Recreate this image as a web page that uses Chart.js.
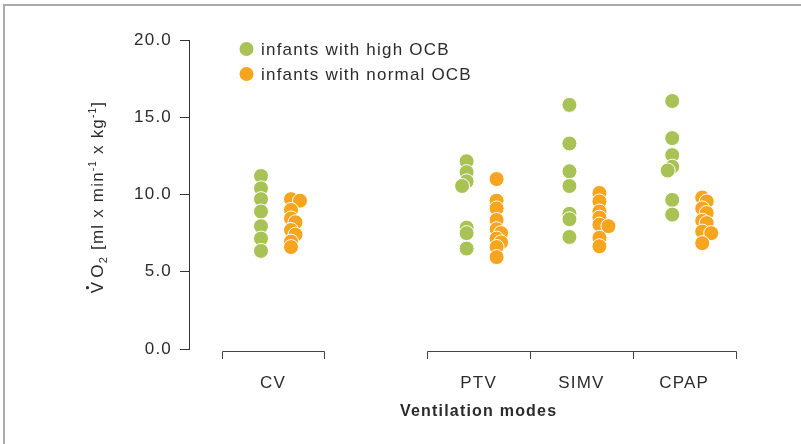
<!DOCTYPE html>
<html>
<head>
<meta charset="utf-8">
<script src="https://cdn.jsdelivr.net/npm/chart.js@4.4.1/dist/chart.umd.min.js"></script>
<style>
  html, body { margin: 0; padding: 0; background: #fff; }
  #wrap { position: relative; width: 801px; height: 444px; }
</style>
</head>
<body>
<div id="wrap"><canvas id="chart" width="801" height="444"></canvas></div>
<script>
// values, one inner list per ventilation mode
const modes = ['CV', 'PTV', 'SIMV', 'CPAP']
const highOCB = [
  [11.2, 10.4, 9.7, 8.9, 7.95, 7.15, 6.35],
  [12.15, 11.45, 10.85, 10.55, 7.85, 7.5, 6.5],
  [15.8, 13.3, 11.5, 10.55, 8.75, 8.4, 7.25],
  [16.05, 13.65, 12.55, 11.8, 11.55, 9.65, 8.7]
]
const normalOCB = [
  [9.7, 9.6, 9.0, 8.45, 8.2, 7.7, 7.4, 6.95, 6.6],
  [11.0, 9.6, 9.1, 8.35, 7.75, 7.5, 7.15, 6.9, 6.6, 5.95],
  [10.1, 9.55, 8.9, 8.5, 8.05, 7.95, 7.2, 6.65],
  [9.8, 9.55, 9.1, 8.8, 8.3, 8.15, 7.6, 7.5, 6.85]
]
const seriesNames = ['infants with high OCB', 'infants with normal OCB']
const yTicks = [0, 5, 10, 15, 20]

// layout: slot of each mode on the x axis (slot 2 is left empty)
const slot = [1, 3, 4, 5]
const X_MIN = 0.183, X_MAX = 5.844
const PX_X = 582 / (X_MAX - X_MIN)   // px per x unit
const PX_Y = 309 / 20                // px per y unit
const GREEN = '#a8c256'
const ORANGE = '#f6a51f'
const FONT = "'Liberation Sans', Arial, sans-serif"
const INK = '#2b2b2b'

// simple dodge so overlapping dots spread sideways a little
// dir = -1 tries the left side first, +1 the right side
function dodge(values, base, dir) {
  const order = values.map((v, i) => i).sort((a, b) => values[b] - values[a])
  const placed = []
  const xs = []
  order.forEach(i => {
    const py = values[i] * PX_Y
    let px = 0
    for (const k of [0, 1, -1, 2, -2, 3, -3]) {
      px = k * dir * 4.5
      if (placed.every(p => Math.hypot(p.x - px, p.y - py) >= 5)) break
    }
    placed.push({ x: px, y: py })
    xs[i] = base + px / PX_X
  })
  return xs
}

function points(groups, shiftPx, dir) {
  const out = []
  groups.forEach((vals, m) => {
    const xs = dodge(vals, slot[m] + shiftPx / PX_X, dir)
    vals.forEach((v, i) => out.push({ x: xs[i], y: v }))
  })
  return out
}

const extras = {
  id: 'extras',
  beforeDraw(chart) {
    const ctx = chart.ctx
    ctx.save()
    ctx.strokeStyle = '#ababab'
    ctx.lineWidth = 2
    ctx.beginPath()
    ctx.moveTo(4, 444); ctx.lineTo(4, 5); ctx.lineTo(801, 5)
    ctx.stroke()
    ctx.restore()
    ctx.letterSpacing = '1.2px'
  },
  afterDraw(chart) {
    const ctx = chart.ctx
    const x = chart.scales.x
    ctx.save()
    ctx.letterSpacing = '1.2px'

    // category brackets under the plot
    ctx.strokeStyle = '#444'
    ctx.lineWidth = 1
    const runs = [[0.5, 1.5], [2.5, 5.5]]
    runs.forEach(([a, b]) => {
      const xa = Math.round(x.getPixelForValue(a)) + 0.5
      const xb = Math.round(x.getPixelForValue(b)) + 0.5
      ctx.beginPath()
      ctx.moveTo(xa, 359); ctx.lineTo(xa, 351.5); ctx.lineTo(xb, 351.5); ctx.lineTo(xb, 359)
      ctx.stroke()
    })
    ;[3.5, 4.5].forEach(v => {
      const xv = Math.round(x.getPixelForValue(v)) + 0.5
      ctx.beginPath(); ctx.moveTo(xv, 351.5); ctx.lineTo(xv, 359); ctx.stroke()
    })

    // x title
    ctx.fillStyle = INK
    ctx.font = 'bold 16px ' + FONT
    ctx.textAlign = 'center'
    ctx.textBaseline = 'middle'
    ctx.fillText('Ventilation modes', x.getPixelForValue(3), 412)

    // legend
    ctx.font = '17px ' + FONT
    ctx.textAlign = 'left'
    ;[GREEN, ORANGE].forEach((c, i) => {
      const cy = 49 + i * 25
      ctx.fillStyle = c
      ctx.beginPath(); ctx.arc(246.5, cy, 7, 0, Math.PI * 2); ctx.fill()
      ctx.fillStyle = INK
      ctx.fillText(seriesNames[i], 261, cy + 1)
    })

    // y title with sub/superscripts, rotated
    const parts = [
      { t: 'V', s: 17, dy: 0, gap: 3 },
      { t: 'O', s: 17, dy: 0 },
      { t: '2', s: 11, dy: 4 },
      { t: ' [ml x min', s: 17, dy: 0 },
      { t: '-1', s: 10, dy: -7 },
      { t: ' x kg', s: 17, dy: 0 },
      { t: '-1', s: 10, dy: -7 },
      { t: ']', s: 17, dy: 0 }
    ]
    let total = 0
    parts.forEach(p => {
      ctx.font = p.s + 'px ' + FONT
      p.w = ctx.measureText(p.t).width + (p.gap || 0)
      total += p.w
    })
    ctx.translate(103, 197)
    ctx.rotate(-Math.PI / 2)
    ctx.textBaseline = 'alphabetic'
    let cx = -total / 2
    parts.forEach((p, i) => {
      ctx.font = p.s + 'px ' + FONT
      ctx.fillText(p.t, cx, p.dy)
      if (i === 0) {
        ctx.beginPath(); ctx.arc(cx + 5.5, -15.5, 1.6, 0, Math.PI * 2); ctx.fill()
      }
      cx += p.w
    })
    ctx.restore()
  }
}

new Chart(document.getElementById('chart'), {
  type: 'scatter',
  data: {
    datasets: [
      {
        label: seriesNames[0],
        data: points(highOCB, -12, -1),
        backgroundColor: GREEN,
        borderColor: '#fff',
        borderWidth: 1,
        pointRadius: 7.5,
        pointHoverRadius: 7.5
      },
      {
        label: seriesNames[1],
        data: points(normalOCB, 18, 1),
        backgroundColor: ORANGE,
        borderColor: '#fff',
        borderWidth: 1,
        pointRadius: 7.5,
        pointHoverRadius: 7.5
      }
    ]
  },
  options: {
    responsive: false,
    animation: false,
    layout: { padding: { top: 40, right: 30, left: 0, bottom: 0 } },
    plugins: { legend: { display: false }, tooltip: { enabled: false } },
    scales: {
      x: {
        type: 'linear',
        min: X_MIN,
        max: X_MAX,
        afterBuildTicks: axis => { axis.ticks = slot.map(v => ({ value: v })) },
        afterFit: axis => { axis.height = 95 },
        grid: { display: false, drawTicks: false },
        border: { display: false },
        ticks: {
          autoSkip: false,
          maxRotation: 0,
          padding: 24,
          color: INK,
          font: { family: FONT, size: 17 },
          callback: v => modes[slot.indexOf(v)]
        }
      },
      y: {
        min: 0,
        max: 20,
        afterBuildTicks: axis => { axis.ticks = yTicks.map(v => ({ value: v })) },
        afterFit: axis => { axis.width = 189 },
        grid: { drawOnChartArea: false, tickLength: 9, color: '#333' },
        border: { color: '#333', width: 1 },
        ticks: {
          padding: 8,
          color: INK,
          font: { family: FONT, size: 17 },
          callback: v => v.toFixed(1)
        }
      }
    }
  },
  plugins: [extras]
})
</script>
</body>
</html>
